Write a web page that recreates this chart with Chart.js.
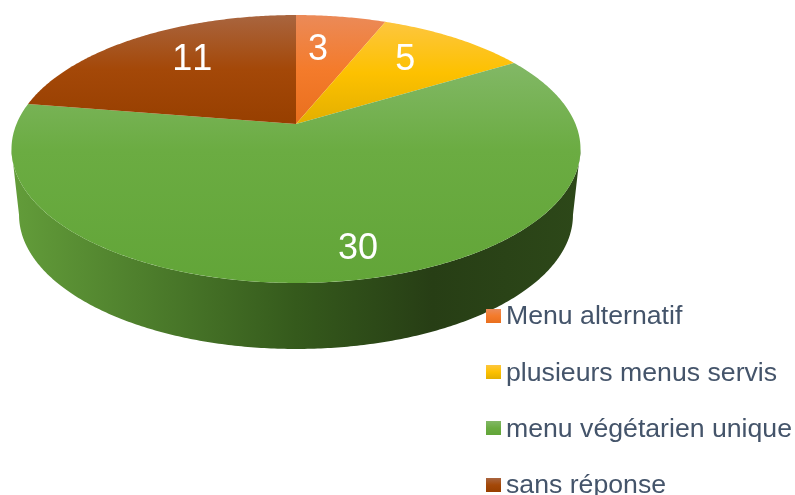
<!DOCTYPE html>
<html>
<head>
<meta charset="utf-8">
<title>Menus</title>
<script src="https://cdn.jsdelivr.net/npm/chart.js@4/dist/chart.umd.min.js"></script>
<style>
    html, body { margin: 0; padding: 0; background: #fff; overflow: hidden; }
    #wrap { position: relative; width: 795px; height: 495px; overflow: hidden; }
    #pie { position: absolute; left: 0; top: 0; }
    #legend { position: absolute; left: 486px; top: 0; font-family: "Liberation Sans", Arial, sans-serif; font-size: 26.67px; color: #44546a; }
    .box { position: absolute; left: 0; width: 15px; height: 14px; }
    .txt { position: absolute; left: 20px; white-space: nowrap; height: 28px; line-height: 28px; }
</style>
</head>
<body>
<div id="wrap">
    <canvas id="pie" width="795" height="495"></canvas>
    <div id="legend"></div>
</div>
<script>
const categories = ['Menu alternatif', 'plusieurs menus servis', 'menu végétarien unique', 'sans réponse'];
const counts = [3, 5, 30, 11];

// top / middle / bottom of each slice's shading
const sliceShades = [
    ['#eb8a58', '#f47b2b', '#e96f1e'],
    ['#fdc63f', '#fdc100', '#e3af00'],
    ['#82b866', '#6bac42', '#62a538'],
    ['#a9653f', '#a44808', '#973f00']
];
const sliceMids = [0.5, 0.5, 0.4, 0.5];
const wallStops = [[0, '#639d3a'], [0.25, '#4c7c2b'], [0.5, '#355a1c'], [0.74, '#273e15'], [1, '#2d4819']];

// where the number sits: share of the radius, share of the slice's sweep
const labelRadius = [0.676, 0.718, 0.824, 0.706];
const labelAlong = [0.34, 0.41, 0.49, 0.56];

// 3d look: the pie is a tilted disc seen in perspective
const cam = { cx: 296, topY: 124, wallY: 190, topW: 279.5, wallW: 272.1, h: 129.3, k: 0.1866 };

function project(theta, r, baseY, w) {
    const u = r * Math.sin(theta);
    const v = -r * Math.cos(theta);
    const d = 1 - cam.k * v;
    return { x: cam.cx + w * u / d, y: baseY + cam.h * v / d };
}

function sample(from, to) {
    const list = [];
    const steps = Math.max(2, Math.ceil(Math.abs(to - from) / 0.01));
    for (let i = 0; i <= steps; i++) {
        list.push(from + (to - from) * i / steps);
    }
    return list;
}

const pie3d = {
    id: 'pie3d',
    beforeDatasetDraw(chart, args) {
        const ctx = chart.ctx;
        const arcs = args.meta.data;
        const sideStart = Math.acos(-cam.k);
        const sideEnd = 2 * Math.PI - sideStart;

        const wallFill = ctx.createLinearGradient(11, 0, 580, 0);
        wallStops.forEach(s => wallFill.addColorStop(s[0], s[1]));

        // outer wall, only the part facing us
        arcs.forEach(arc => {
            const a = Math.max(arc.startAngle + Math.PI / 2, sideStart);
            const b = Math.min(arc.endAngle + Math.PI / 2, sideEnd);
            if (b <= a) return;
            ctx.beginPath();
            sample(a, b).forEach((t, i) => {
                const p = project(t, 1, cam.topY, cam.topW);
                if (i === 0) ctx.moveTo(p.x, p.y); else ctx.lineTo(p.x, p.y);
            });
            sample(b, a).forEach(t => {
                const p = project(t, 1, cam.wallY, cam.wallW);
                ctx.lineTo(p.x, p.y);
            });
            ctx.closePath();
            ctx.fillStyle = wallFill;
            ctx.fill();
        });

        // top face
        arcs.forEach((arc, i) => {
            const pts = sample(arc.startAngle + Math.PI / 2, arc.endAngle + Math.PI / 2)
                .map(t => project(t, 1, cam.topY, cam.topW));
            const ys = pts.map(p => p.y).concat(cam.topY);
            const g = ctx.createLinearGradient(0, Math.min(...ys), 0, Math.max(...ys));
            g.addColorStop(0, sliceShades[i][0]);
            g.addColorStop(sliceMids[i], sliceShades[i][1]);
            g.addColorStop(1, sliceShades[i][2]);
            ctx.beginPath();
            ctx.moveTo(cam.cx, cam.topY);
            pts.forEach(p => ctx.lineTo(p.x, p.y));
            ctx.closePath();
            ctx.fillStyle = g;
            ctx.fill();
        });
        return false;
    },
    afterDatasetsDraw(chart) {
        const ctx = chart.ctx;
        const arcs = chart.getDatasetMeta(0).data;
        ctx.save();
        ctx.font = '36px "Liberation Sans", Arial, sans-serif';
        ctx.fontKerning = 'none';
        ctx.fillStyle = '#ffffff';
        ctx.textAlign = 'center';
        ctx.textBaseline = 'middle';
        arcs.forEach((arc, i) => {
            const t = arc.startAngle + (arc.endAngle - arc.startAngle) * labelAlong[i] + Math.PI / 2;
            const p = project(t, labelRadius[i], cam.topY, cam.topW);
            ctx.fillText(String(counts[i]), p.x, p.y + 3);
        });
        ctx.restore();
    }
};

new Chart(document.getElementById('pie').getContext('2d'), {
    type: 'pie',
    data: {
        labels: categories,
        datasets: [{ data: counts, backgroundColor: sliceShades.map(s => s[1]), borderWidth: 0 }]
    },
    options: {
        responsive: false,
        animation: false,
        plugins: {
            legend: { display: false },
            tooltip: { enabled: false }
        }
    },
    plugins: [pie3d]
});

// legend sits on top of the pie's corner, same as the original
const legendBox = document.getElementById('legend');
const legendTextTops = [301, 358, 414, 470];
const legendBoxTops = [309, 365, 421, 478];
categories.forEach((name, i) => {
    const box = document.createElement('span');
    box.className = 'box';
    box.style.top = legendBoxTops[i] + 'px';
    box.style.background = 'linear-gradient(' + sliceShades[i].join(',') + ')';
    const txt = document.createElement('span');
    txt.className = 'txt';
    txt.style.top = legendTextTops[i] + 'px';
    txt.textContent = name;
    legendBox.appendChild(box);
    legendBox.appendChild(txt);
});
</script>
</body>
</html>
